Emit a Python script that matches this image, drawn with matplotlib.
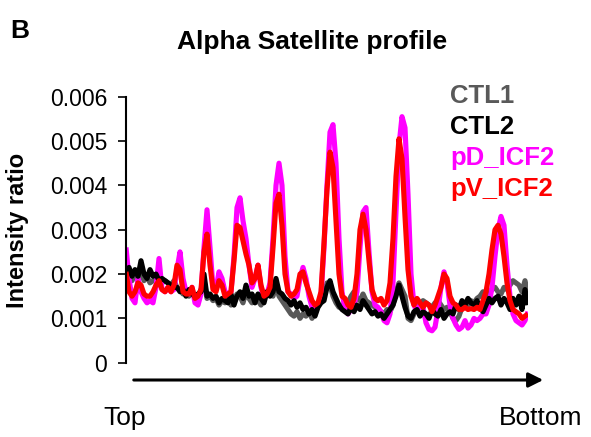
import numpy as np
import matplotlib
matplotlib.use("Agg")
import matplotlib.pyplot as plt

plt.rcParams['font.family'] = ['Liberation Sans', 'DejaVu Sans']

# Intensity ratio profiles (units of 0.001), sampled along Top -> Bottom
ctl1 = [1.9, 2.0, 1.85, 2.0, 1.9, 2.1, 1.85, 1.95, 1.8, 1.85,
        1.9, 1.75, 1.8, 1.85, 1.8, 1.75, 1.85, 1.7, 1.65, 1.55,
        1.6, 1.5, 1.6, 1.45, 1.5, 1.65, 1.85, 1.45, 1.5, 1.4,
        1.45, 1.3, 1.4, 1.35, 1.45, 1.3, 1.4, 1.55, 1.5, 1.35,
        1.6, 1.45, 1.35, 1.5, 1.4, 1.3, 1.45, 1.55, 1.6, 1.5,
        1.75, 1.5, 1.4, 1.3, 1.2, 1.1, 1.05, 1.15, 1.0, 1.1,
        1.05, 1.15, 1.0, 1.2, 1.3, 1.4, 1.5, 1.8, 1.75, 1.5,
        1.35, 1.25, 1.3, 1.2, 1.35, 1.5, 1.6, 1.45, 1.4, 1.55,
        1.4, 1.35, 1.3, 1.25, 1.2, 1.15, 1.1, 1.2, 1.15, 1.3,
        1.6, 1.8, 1.65, 1.5, 1.0, 0.95, 1.1, 1.25, 1.3, 1.4,
        1.35, 1.3, 1.25, 1.35, 1.4, 1.3, 1.2, 1.25, 1.15, 1.0,
        0.95, 1.05, 1.25, 1.35, 1.3, 1.4, 1.35, 1.45, 1.5, 1.6,
        1.5, 1.55, 1.65, 1.7, 1.6, 1.55, 1.7, 1.65, 1.75, 1.85,
        1.8, 1.75, 1.6, 1.85, 1.55]
ctl2 = [2.0, 2.15, 1.95, 2.1, 1.95, 2.3, 2.0, 1.9, 2.1, 1.95,
        2.0, 1.85, 1.9, 1.85, 1.8, 1.75, 1.7, 1.7, 1.6, 1.65,
        1.5, 1.65, 1.55, 1.5, 1.55, 1.6, 2.0, 1.5, 1.55, 1.45,
        1.5, 1.35, 1.45, 1.4, 1.35, 1.55, 1.3, 1.5, 1.6, 1.45,
        1.75, 1.5, 1.55, 1.35, 1.55, 1.45, 1.35, 1.6, 1.5, 1.6,
        1.9, 1.6, 1.55, 1.45, 1.4, 1.3, 1.4, 1.25, 1.35, 1.2,
        1.25, 1.1, 1.2, 1.05, 1.25, 1.35, 1.4, 1.7, 1.85, 1.6,
        1.45, 1.3, 1.2, 1.15, 1.1, 1.25, 1.15, 1.3, 1.2, 1.4,
        1.3, 1.2, 1.1, 1.15, 1.05, 1.1, 1.0, 1.1, 1.2, 1.3,
        1.5, 1.75, 1.5, 1.25, 1.05, 1.0, 1.15, 1.2, 1.05, 1.15,
        1.1, 1.0, 1.2, 1.1, 1.05, 1.2, 1.0, 1.1, 1.15, 1.1,
        1.3, 1.2, 1.4, 1.3, 1.45, 1.35, 1.3, 1.4, 1.25, 1.15,
        1.3, 1.45, 1.35, 1.45, 1.5, 1.3, 1.45, 1.35, 1.2, 1.45,
        1.3, 1.5, 1.2, 1.65, 1.3]
pd_icf2 = [2.6, 1.9, 1.45, 1.35, 1.9, 1.6, 1.45, 1.35, 1.4, 1.35,
           1.7, 2.35, 1.65, 1.6, 1.7, 1.6, 1.65, 2.1, 2.5, 1.9,
           1.6, 1.55, 1.7, 1.35, 1.3, 1.55, 2.6, 3.45, 2.6, 1.7,
           1.65, 2.05, 1.9, 1.6, 1.55, 1.6, 2.4, 3.5, 3.72, 3.2,
           2.8, 2.2, 1.7, 1.9, 2.2, 1.7, 1.45, 1.55, 1.8, 2.8,
           4.0, 4.5, 4.0, 2.4, 1.6, 1.55, 1.45, 1.5, 1.9, 2.15,
           1.9, 1.5, 1.25, 1.1, 1.3, 1.5, 2.6, 4.0, 5.2, 5.37,
           4.5, 2.8, 1.6, 1.2, 1.1, 1.2, 1.3, 1.6, 2.6, 3.4,
           3.5, 2.5, 1.6, 1.3, 1.25, 1.15, 0.95, 0.9, 1.1, 1.8,
           3.4, 4.9, 5.55, 5.3, 3.8, 2.0, 1.3, 1.15, 1.3, 1.25,
           0.9, 0.75, 0.72, 0.8, 1.2, 1.7, 2.05, 1.8, 1.3, 1.0,
           0.85, 0.75, 0.8, 0.95, 0.78, 0.85, 1.0, 0.95, 1.0, 1.1,
           1.1, 1.3, 1.7, 2.4, 3.0, 3.3, 3.1, 2.2, 1.5, 1.1,
           0.95, 0.9, 0.85, 0.95, 1.15]
pv_icf2 = [2.05, 1.6, 1.5, 1.6, 1.8, 1.75, 1.55, 1.5, 1.5, 1.6,
           1.75, 1.85, 1.65, 1.6, 1.7, 1.6, 1.75, 2.2, 2.1, 1.6,
           1.55, 1.55, 1.7, 1.45, 1.5, 1.65, 2.5, 2.9, 2.2, 1.65,
           1.6, 1.85, 1.75, 1.5, 1.55, 1.6, 2.3, 3.1, 3.05, 2.75,
           2.45, 2.2, 1.8, 1.9, 2.2, 1.75, 1.5, 1.55, 1.7, 2.6,
           3.6, 3.8, 3.1, 2.0, 1.6, 1.5, 1.55, 1.65, 2.0, 2.05,
           1.8, 1.6, 1.4, 1.3, 1.35, 1.6, 2.7, 3.9, 4.75, 4.4,
           3.2, 2.0, 1.5, 1.45, 1.3, 1.25, 1.45, 2.0, 3.0, 3.35,
           3.0, 2.3, 1.65, 1.45, 1.4, 1.45, 1.3, 1.4, 1.8, 2.8,
           4.2, 5.05, 4.6, 3.3, 2.1, 1.5, 1.3, 1.45, 1.35, 1.25,
           1.35, 1.3, 1.15, 1.3, 1.5, 1.7, 2.0, 1.9, 1.5, 1.35,
           1.3, 1.2, 1.2, 1.25, 1.2, 1.22, 1.2, 1.25, 1.2, 1.4,
           1.6, 2.0, 2.55, 3.0, 3.1, 2.9, 2.4, 1.8, 1.4, 1.2,
           1.15, 1.1, 1.0, 1.05, 1.1]

series_names = ["CTL1", "CTL2", "pD_ICF2", "pV_ICF2"]
series_colors = ["#595959", "#000000", "#FF00FF", "#FF0000"]
y_ticks = [0, 0.001, 0.002, 0.003, 0.004, 0.005, 0.006]
y_tick_labels = ["0", "0.001", "0.002", "0.003", "0.004", "0.005", "0.006"]

W, H = 591, 437
fig = plt.figure(figsize=(W / 100, H / 100), dpi=100)

def fx(px):
    return px / W

def fy(py):
    return (H - py) / H

ax = fig.add_axes([fx(126), fy(362.7), fx(528) - fx(126), fy(96.7) - fy(362.7)])

x = np.arange(len(ctl1))
draw_order = [0, 2, 1, 3]
data = [ctl1, ctl2, pd_icf2, pv_icf2]
for k in draw_order:
    ax.plot(x, np.array(data[k]) * 0.001, color=series_colors[k], lw=3.7,
            solid_joinstyle='round', solid_capstyle='butt')

ax.set_xlim(0, len(ctl1) - 1)
ax.set_ylim(0, 0.006)
ax.set_yticks(y_ticks)
ax.set_yticklabels(y_tick_labels)
ax.tick_params(axis='y', direction='out', length=5.5, width=1.2, labelsize=16.5, pad=8)
ax.set_xticks([])
for s in ['top', 'right', 'bottom']:
    ax.spines[s].set_visible(False)
ax.spines['left'].set_linewidth(1.5)
ax.patch.set_alpha(0)

# Title, panel letter, y label
fig.text(fx(312), fy(42), "Alpha Satellite profile", ha='center', va='center',
         fontsize=19, fontweight='bold')
fig.text(fx(10), fy(31), "B", ha='left', va='center', fontsize=19, fontweight='bold')
fig.text(fx(18), fy(230), "Intensity ratio", ha='center', va='center',
         rotation=90, fontsize=17, fontweight='bold')

# Legend as colored text
baselines = [103, 134, 165, 196]
for name, col, b in zip(series_names, series_colors, baselines):
    fig.text(fx(450), fy(b), name, ha='left', va='baseline', color=col,
             fontsize=18.5, fontweight='bold')

# Direction arrow
fig.patches.append(matplotlib.patches.FancyArrowPatch(
    (fx(131), fy(380)), (fx(546), fy(380)), transform=fig.transFigure,
    arrowstyle='-|>', mutation_scale=22, lw=2.2, color='black'))
fig.text(fx(125), fy(425), "Top", ha='center', va='baseline', fontsize=19)
fig.text(fx(541), fy(425), "Bottom", ha='center', va='baseline', fontsize=19)

fig.savefig("out.png", dpi=100)
